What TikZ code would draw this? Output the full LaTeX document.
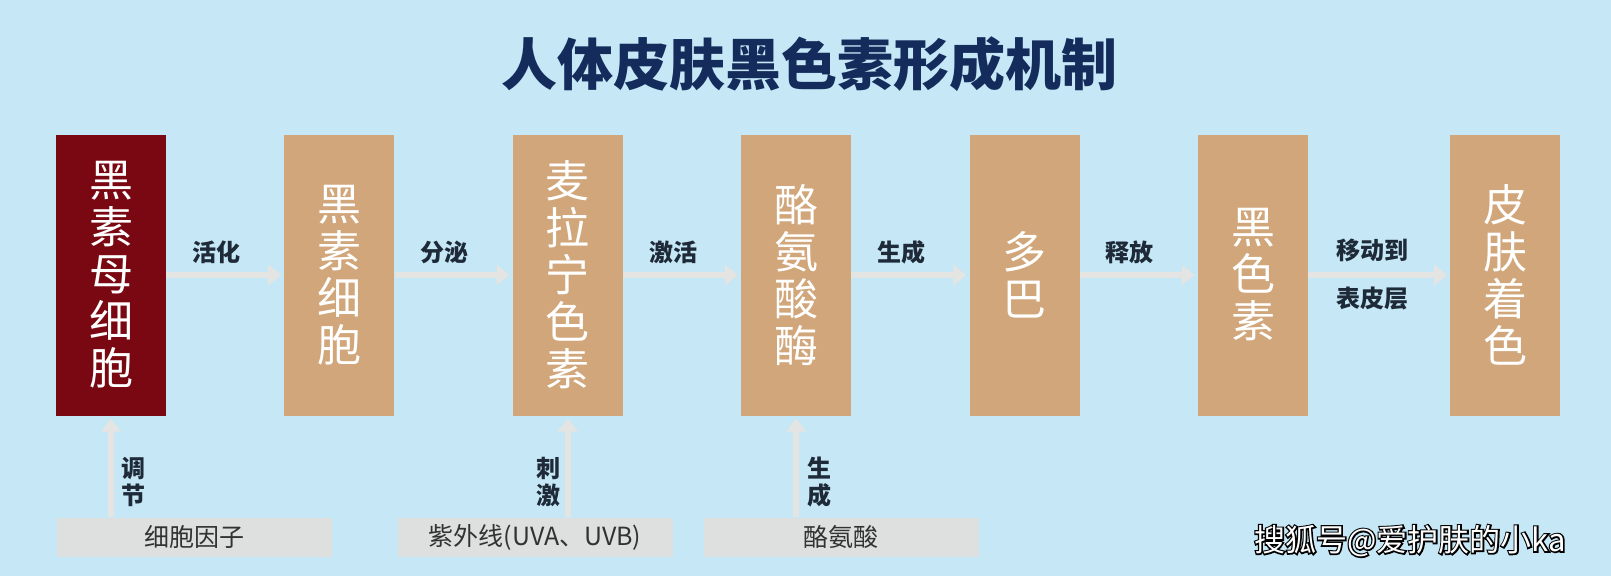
\documentclass[tikz,border=0pt]{standalone}
\usepackage{fontspec}
\setmainfont{Noto Sans CJK SC}
\newfontfamily\wmbold{Noto Sans CJK SC}[FakeBold=9]
\usepackage{xcolor}
\usetikzlibrary{positioning,arrows.meta}

\definecolor{bgblue}{RGB}{197,231,246}
\definecolor{boxtan}{RGB}{208,166,122}
\definecolor{boxred}{RGB}{122,8,18}
\definecolor{titleblue}{RGB}{20,44,92}
\definecolor{lbltext}{RGB}{30,42,56}
\definecolor{srctext}{RGB}{50,50,50}
\definecolor{greybox}{RGB}{222,224,224}
\definecolor{arrowgrey}{RGB}{228,228,226}

\tikzset{
  stage/.style={fill=boxtan, text=white, minimum width=110pt, minimum height=281pt,
    inner sep=0pt, align=center, font=\fontsize{44}{47}\selectfont},
  source/.style={fill=greybox, minimum width=275pt, minimum height=39pt, inner sep=0pt,
    text=srctext, font=\fontsize{25}{27}\selectfont},
  flow/.style={color=arrowgrey, line width=6pt, -{Triangle[width=20pt,length=13pt]},
    shorten >=3pt},
  lbl/.style={text=lbltext, font=\bfseries\fontsize{24}{48}\selectfont, align=center},
  vlbl/.style={text=lbltext, font=\bfseries\fontsize{24}{27}\selectfont, align=center},
}

\begin{document}
\begin{tikzpicture}[x=1pt,y=-1pt]
  \fill[bgblue] (0,0) rectangle (1611,576);
  \useasboundingbox (0,0) rectangle (1611,576);

  \node[name=title, text=titleblue, font=\bfseries\fontsize{56}{60}\selectfont] at (809,64)
    {人体皮肤黑色素形成机制};

  % top row
  \node[stage, fill=boxred, name=mb] at (111,275) {黑\\素\\母\\细\\胞};
  \node[stage, name=mc, right=118pt of mb] {黑\\素\\细\\胞};
  \node[stage, name=mlp, right=118pt of mc] {麦\\拉\\宁\\色\\素};
  \node[stage, name=tyr, right=118pt of mlp] {酪\\氨\\酸\\酶};
  \node[stage, name=dopa, right=118pt of tyr] {多\\巴};
  \node[stage, name=mel, right=118pt of dopa] {黑\\色\\素};
  \node[stage, name=skin, right=142pt of mel] {皮\\肤\\着\\色};

  % bottom row
  \node[source, name=cyto] at (194,537) {细胞因子};
  \node[source, name=uv] at (535,537) {紫外线(UVA、UVB)};
  \node[source, name=tyro] at (841,537) {酪氨酸};

  \path[flow]
    (mb)   edge node[lbl, above=5pt, xshift=-9pt, name=l1] {活化} (mc)
    (mc)   edge node[lbl, above=5pt, xshift=-9pt, name=l2] {分泌} (mlp)
    (mlp)  edge node[lbl, above=5pt, xshift=-9pt, name=l3] {激活} (tyr)
    (tyr)  edge node[lbl, above=5pt, xshift=-9pt, name=l4] {生成} (dopa)
    (dopa) edge node[lbl, above=5pt, xshift=-9pt, name=l5] {释放} (mel)
    (mel)  edge node[lbl, xshift=-7pt, name=l6] {移动到\\表皮层} (skin);

  \path[flow]
    (cyto.north -| mb.south)   edge node[vlbl, pos=0.35, right=4pt, name=v1] {调\\节} (mb.south)
    (uv.north -| mlp.south)    edge node[vlbl, pos=0.35, left=1pt, name=v2] {刺\\激} (mlp.south)
    (tyro.north -| tyr.south)  edge node[vlbl, pos=0.35, right=5pt, name=v3] {生\\成} (tyr.south);

  \node[name=wm, text=white, font=\fontsize{31}{33}\selectfont] at (1410,541)
    {\rlap{\color{black}\wmbold 搜狐号@爱护肤的小ka}搜狐号@爱护肤的小ka};
\end{tikzpicture}
\end{document}
